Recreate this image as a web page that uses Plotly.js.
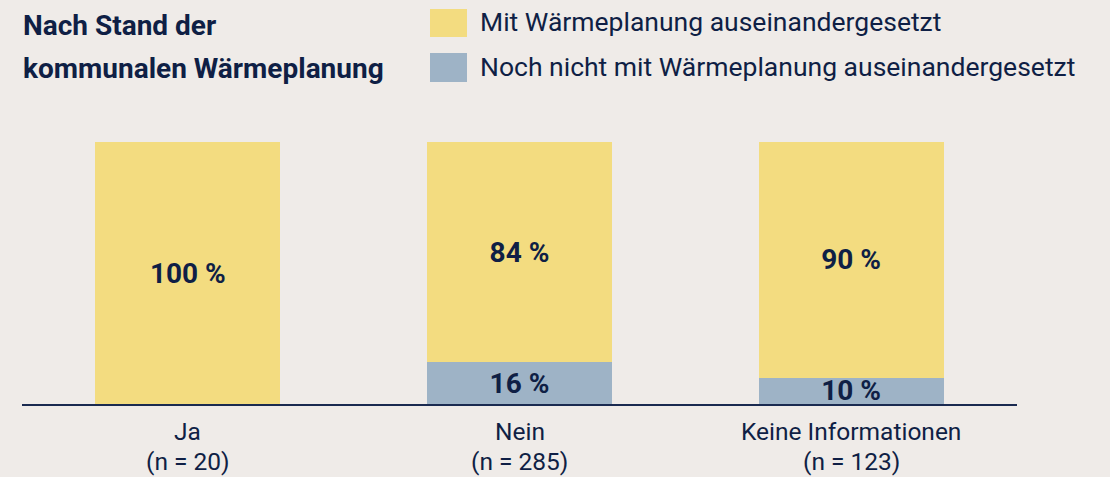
<!DOCTYPE html>
<html>
<head>
<meta charset="utf-8">
<script src="https://cdn.plot.ly/plotly-3.0.1.min.js"></script>
<style>
html,body{margin:0;padding:0;background:#efebe8;}
#chart{width:1110px;height:477px;}
</style>
</head>
<body>
<div id="chart"></div>
<script>
const categories = ["Ja", "Nein", "Keine Informationen"];
const sampleSizes = [20, 285, 123];
const notYet = [0, 16, 10];
const withPlanning = [100, 84, 90];
const seriesNames = ["Mit Wärmeplanung auseinandergesetzt", "Noch nicht mit Wärmeplanung auseinandergesetzt"];
const titleLines = ["Nach Stand der", "kommunalen Wärmeplanung"];

const navy = "#0f1f45";
const fontFam = "Roboto, 'Noto Sans', sans-serif";

const traceBlue = {
  type: "bar", x: categories, y: notYet, name: seriesNames[1],
  marker: {color: "#9eb3c6"},
  text: notYet.map(v => v > 0 ? "<b>" + v + " %</b>" : ""),
  textposition: "inside", insidetextanchor: "middle", constraintext: "none",
  textfont: {family: fontFam, size: 28, color: navy},
  hoverinfo: "skip", showlegend: false, cliponaxis: false
};
const traceYellow = {
  type: "bar", x: categories, y: withPlanning, name: seriesNames[0],
  marker: {color: "#f3dc80"},
  text: withPlanning.map(v => "<b>" + v + " %</b>"),
  textposition: "inside", insidetextanchor: "middle", constraintext: "none",
  textfont: {family: fontFam, size: 28, color: navy},
  hoverinfo: "skip", showlegend: false
};

const layout = {
  width: 1110, height: 477,
  paper_bgcolor: "#efebe8", plot_bgcolor: "#efebe8",
  margin: {l: 22, r: 93, t: 142, b: 73},
  barmode: "stack", bargap: 0.442,
  font: {family: fontFam, color: navy},
  xaxis: {
    type: "category", range: [-0.5, 2.5],
    showticklabels: false,
    showline: true, linecolor: "#1a2a50", linewidth: 2,
    ticks: "", showgrid: false, zeroline: false, fixedrange: true
  },
  yaxis: {range: [0, 100], visible: false, showgrid: false, zeroline: false},
  showlegend: false
};

const plotH = 477 - 142 - 73, plotW = 1110 - 22 - 93;
function py(pix) { return (477 - 73 - pix) / plotH; }
function px(pix) { return (pix - 22) / plotW; }

const ann = [
  {xref: "paper", yref: "paper", x: px(21), xanchor: "left", y: py(26), yanchor: "middle",
   text: "<b>" + titleLines[0] + "</b>", showarrow: false, font: {size: 28, color: navy}},
  {xref: "paper", yref: "paper", x: px(21), xanchor: "left", y: py(68), yanchor: "middle",
   text: "<b>" + titleLines[1] + "</b>", showarrow: false, font: {size: 28, color: navy}},
  {xref: "paper", yref: "paper", x: px(478), xanchor: "left", y: py(22), yanchor: "middle",
   text: seriesNames[0], showarrow: false, font: {size: 26.5, color: navy}},
  {xref: "paper", yref: "paper", x: px(478), xanchor: "left", y: py(67), yanchor: "middle",
   text: seriesNames[1], showarrow: false, font: {size: 26.5, color: navy}}
];
categories.forEach((c, i) => {
  ann.push({xref: "x", yref: "paper", x: c, xanchor: "center", y: py(447), yanchor: "bottom",
    borderpad: 0, text: c, showarrow: false, font: {size: 24.5, color: navy}});
  ann.push({xref: "x", yref: "paper", x: c, xanchor: "center", y: py(446), yanchor: "top",
    borderpad: 0, text: "(n = " + sampleSizes[i] + ")", showarrow: false, font: {size: 24.5, color: navy}});
});
layout.annotations = ann;
layout.shapes = [
  {type: "rect", xref: "paper", yref: "paper", x0: px(430), x1: px(467), y0: py(9), y1: py(37),
   fillcolor: "#f3dc80", line: {width: 0}},
  {type: "rect", xref: "paper", yref: "paper", x0: px(430), x1: px(467), y0: py(53), y1: py(82),
   fillcolor: "#9eb3c6", line: {width: 0}}
];

Plotly.newPlot("chart", [traceBlue, traceYellow], layout, {displayModeBar: false, staticPlot: true});
</script>
</body>
</html>
